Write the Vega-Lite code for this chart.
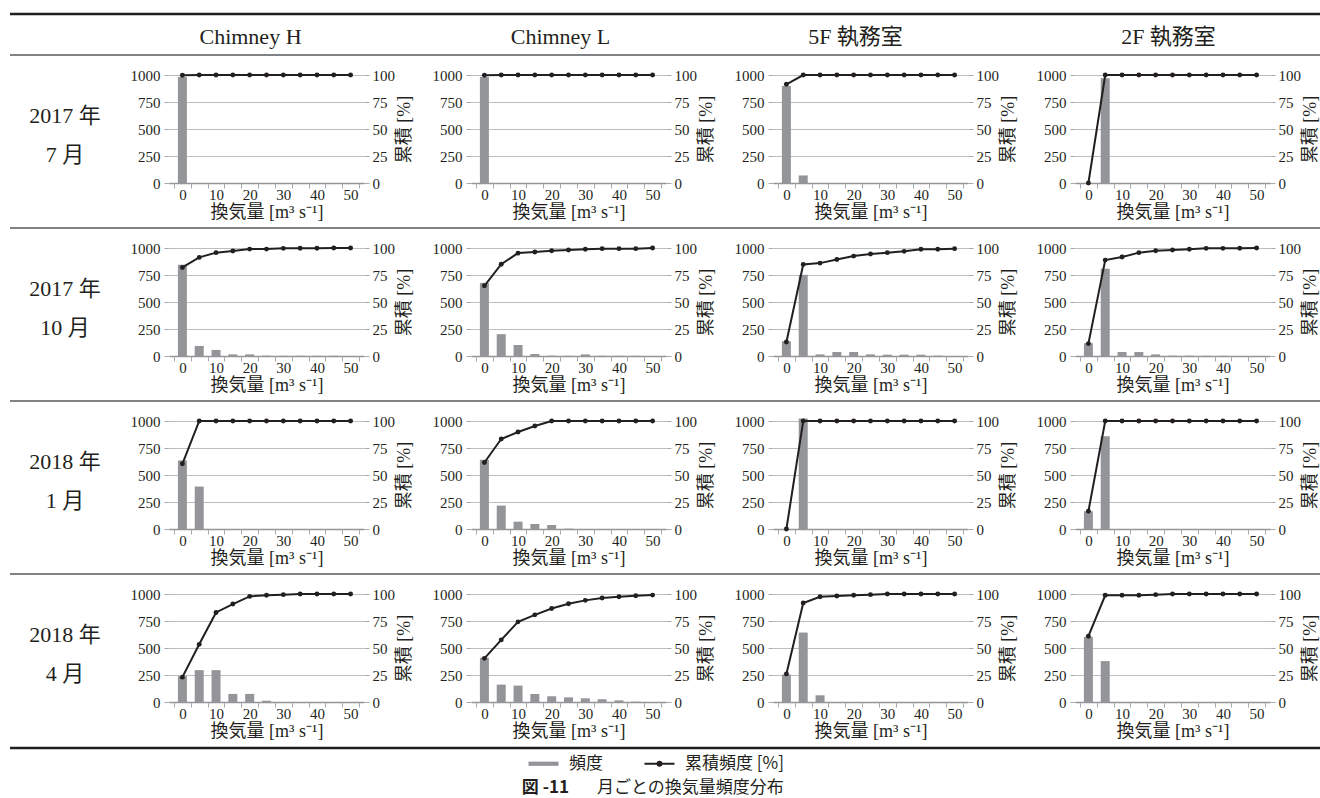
{
"$schema":"https://vega.github.io/schema/vega-lite/v6.json",
"background":"white",
"padding":{"left":8,"top":12,"right":0,"bottom":0},
"data":{"values":[
{"m":"1707","l":"CH","x":0,"f":982,"c":99.8},{"m":"1707","l":"CH","x":5,"f":0,"c":100},{"m":"1707","l":"CH","x":10,"f":0,"c":100},{"m":"1707","l":"CH","x":15,"f":0,"c":100},{"m":"1707","l":"CH","x":20,"f":0,"c":100},{"m":"1707","l":"CH","x":25,"f":0,"c":100},{"m":"1707","l":"CH","x":30,"f":0,"c":100},{"m":"1707","l":"CH","x":35,"f":0,"c":100},{"m":"1707","l":"CH","x":40,"f":0,"c":100},{"m":"1707","l":"CH","x":45,"f":0,"c":100},{"m":"1707","l":"CH","x":50,"f":0,"c":100},
{"m":"1707","l":"CL","x":0,"f":982,"c":99.8},{"m":"1707","l":"CL","x":5,"f":0,"c":100},{"m":"1707","l":"CL","x":10,"f":0,"c":100},{"m":"1707","l":"CL","x":15,"f":0,"c":100},{"m":"1707","l":"CL","x":20,"f":0,"c":100},{"m":"1707","l":"CL","x":25,"f":0,"c":100},{"m":"1707","l":"CL","x":30,"f":0,"c":100},{"m":"1707","l":"CL","x":35,"f":0,"c":100},{"m":"1707","l":"CL","x":40,"f":0,"c":100},{"m":"1707","l":"CL","x":45,"f":0,"c":100},{"m":"1707","l":"CL","x":50,"f":0,"c":100},
{"m":"1707","l":"5F","x":0,"f":899,"c":91.4},{"m":"1707","l":"5F","x":5,"f":70,"c":100},{"m":"1707","l":"5F","x":10,"f":0,"c":100},{"m":"1707","l":"5F","x":15,"f":0,"c":100},{"m":"1707","l":"5F","x":20,"f":0,"c":100},{"m":"1707","l":"5F","x":25,"f":0,"c":100},{"m":"1707","l":"5F","x":30,"f":0,"c":100},{"m":"1707","l":"5F","x":35,"f":0,"c":100},{"m":"1707","l":"5F","x":40,"f":0,"c":100},{"m":"1707","l":"5F","x":45,"f":0,"c":100},{"m":"1707","l":"5F","x":50,"f":0,"c":100},
{"m":"1707","l":"2F","x":0,"f":0,"c":0},{"m":"1707","l":"2F","x":5,"f":969,"c":100},{"m":"1707","l":"2F","x":10,"f":0,"c":100},{"m":"1707","l":"2F","x":15,"f":0,"c":100},{"m":"1707","l":"2F","x":20,"f":0,"c":100},{"m":"1707","l":"2F","x":25,"f":0,"c":100},{"m":"1707","l":"2F","x":30,"f":0,"c":100},{"m":"1707","l":"2F","x":35,"f":0,"c":100},{"m":"1707","l":"2F","x":40,"f":0,"c":100},{"m":"1707","l":"2F","x":45,"f":0,"c":100},{"m":"1707","l":"2F","x":50,"f":0,"c":100},
{"m":"1710","l":"CH","x":0,"f":845,"c":82},{"m":"1710","l":"CH","x":5,"f":93,"c":91.3},{"m":"1710","l":"CH","x":10,"f":56,"c":95.7},{"m":"1710","l":"CH","x":15,"f":15,"c":97.2},{"m":"1710","l":"CH","x":20,"f":15,"c":99},{"m":"1710","l":"CH","x":25,"f":3,"c":99},{"m":"1710","l":"CH","x":30,"f":2,"c":99.7},{"m":"1710","l":"CH","x":35,"f":2,"c":99.8},{"m":"1710","l":"CH","x":40,"f":2,"c":99.8},{"m":"1710","l":"CH","x":45,"f":2,"c":100},{"m":"1710","l":"CH","x":50,"f":0,"c":100},
{"m":"1710","l":"CL","x":0,"f":677,"c":65},{"m":"1710","l":"CL","x":5,"f":202,"c":85},{"m":"1710","l":"CL","x":10,"f":102,"c":95.3},{"m":"1710","l":"CL","x":15,"f":18,"c":96.3},{"m":"1710","l":"CL","x":20,"f":3,"c":97.5},{"m":"1710","l":"CL","x":25,"f":2,"c":98.1},{"m":"1710","l":"CL","x":30,"f":15,"c":98.8},{"m":"1710","l":"CL","x":35,"f":3,"c":99.4},{"m":"1710","l":"CL","x":40,"f":2,"c":99.4},{"m":"1710","l":"CL","x":45,"f":2,"c":99.4},{"m":"1710","l":"CL","x":50,"f":0,"c":100},
{"m":"1710","l":"5F","x":0,"f":137,"c":13},{"m":"1710","l":"5F","x":5,"f":752,"c":84.8},{"m":"1710","l":"5F","x":10,"f":15,"c":86},{"m":"1710","l":"5F","x":15,"f":37,"c":89.4},{"m":"1710","l":"5F","x":20,"f":37,"c":92.5},{"m":"1710","l":"5F","x":25,"f":15,"c":94.4},{"m":"1710","l":"5F","x":30,"f":12,"c":95.7},{"m":"1710","l":"5F","x":35,"f":12,"c":96.9},{"m":"1710","l":"5F","x":40,"f":12,"c":98.8},{"m":"1710","l":"5F","x":45,"f":3,"c":98.8},{"m":"1710","l":"5F","x":50,"f":0,"c":99.4},
{"m":"1710","l":"2F","x":0,"f":118,"c":11.5},{"m":"1710","l":"2F","x":5,"f":807,"c":88.8},{"m":"1710","l":"2F","x":10,"f":37,"c":91.6},{"m":"1710","l":"2F","x":15,"f":37,"c":95.7},{"m":"1710","l":"2F","x":20,"f":15,"c":97.5},{"m":"1710","l":"2F","x":25,"f":3,"c":98.1},{"m":"1710","l":"2F","x":30,"f":3,"c":98.8},{"m":"1710","l":"2F","x":35,"f":2,"c":99.7},{"m":"1710","l":"2F","x":40,"f":2,"c":99.7},{"m":"1710","l":"2F","x":45,"f":0,"c":99.8},{"m":"1710","l":"2F","x":50,"f":0,"c":100},
{"m":"1801","l":"CH","x":0,"f":635,"c":60.4},{"m":"1801","l":"CH","x":5,"f":393,"c":100},{"m":"1801","l":"CH","x":10,"f":0,"c":100},{"m":"1801","l":"CH","x":15,"f":0,"c":100},{"m":"1801","l":"CH","x":20,"f":0,"c":100},{"m":"1801","l":"CH","x":25,"f":0,"c":100},{"m":"1801","l":"CH","x":30,"f":0,"c":100},{"m":"1801","l":"CH","x":35,"f":0,"c":100},{"m":"1801","l":"CH","x":40,"f":0,"c":100},{"m":"1801","l":"CH","x":45,"f":0,"c":100},{"m":"1801","l":"CH","x":50,"f":0,"c":100},
{"m":"1801","l":"CL","x":0,"f":641,"c":61.6},{"m":"1801","l":"CL","x":5,"f":217,"c":83.3},{"m":"1801","l":"CL","x":10,"f":68,"c":89.8},{"m":"1801","l":"CL","x":15,"f":46,"c":95.4},{"m":"1801","l":"CL","x":20,"f":37,"c":100},{"m":"1801","l":"CL","x":25,"f":3,"c":100},{"m":"1801","l":"CL","x":30,"f":0,"c":100},{"m":"1801","l":"CL","x":35,"f":0,"c":100},{"m":"1801","l":"CL","x":40,"f":0,"c":100},{"m":"1801","l":"CL","x":45,"f":0,"c":100},{"m":"1801","l":"CL","x":50,"f":0,"c":100},
{"m":"1801","l":"5F","x":0,"f":0,"c":0},{"m":"1801","l":"5F","x":5,"f":1022,"c":100},{"m":"1801","l":"5F","x":10,"f":0,"c":100},{"m":"1801","l":"5F","x":15,"f":0,"c":100},{"m":"1801","l":"5F","x":20,"f":0,"c":100},{"m":"1801","l":"5F","x":25,"f":0,"c":100},{"m":"1801","l":"5F","x":30,"f":0,"c":100},{"m":"1801","l":"5F","x":35,"f":0,"c":100},{"m":"1801","l":"5F","x":40,"f":0,"c":100},{"m":"1801","l":"5F","x":45,"f":0,"c":100},{"m":"1801","l":"5F","x":50,"f":0,"c":100},
{"m":"1801","l":"2F","x":0,"f":164,"c":16.4},{"m":"1801","l":"2F","x":5,"f":858,"c":100},{"m":"1801","l":"2F","x":10,"f":0,"c":100},{"m":"1801","l":"2F","x":15,"f":0,"c":100},{"m":"1801","l":"2F","x":20,"f":0,"c":100},{"m":"1801","l":"2F","x":25,"f":0,"c":100},{"m":"1801","l":"2F","x":30,"f":0,"c":100},{"m":"1801","l":"2F","x":35,"f":0,"c":100},{"m":"1801","l":"2F","x":40,"f":0,"c":100},{"m":"1801","l":"2F","x":45,"f":0,"c":100},{"m":"1801","l":"2F","x":50,"f":0,"c":100},
{"m":"1804","l":"CH","x":0,"f":239,"c":23},{"m":"1804","l":"CH","x":5,"f":295,"c":53.4},{"m":"1804","l":"CH","x":10,"f":295,"c":82.9},{"m":"1804","l":"CH","x":15,"f":75,"c":90.7},{"m":"1804","l":"CH","x":20,"f":75,"c":97.8},{"m":"1804","l":"CH","x":25,"f":12,"c":98.8},{"m":"1804","l":"CH","x":30,"f":0,"c":99.4},{"m":"1804","l":"CH","x":35,"f":0,"c":100},{"m":"1804","l":"CH","x":40,"f":0,"c":100},{"m":"1804","l":"CH","x":45,"f":0,"c":100},{"m":"1804","l":"CH","x":50,"f":0,"c":100},
{"m":"1804","l":"CL","x":0,"f":410,"c":40.4},{"m":"1804","l":"CL","x":5,"f":161,"c":57.5},{"m":"1804","l":"CL","x":10,"f":152,"c":74.2},{"m":"1804","l":"CL","x":15,"f":75,"c":80.7},{"m":"1804","l":"CL","x":20,"f":53,"c":86.6},{"m":"1804","l":"CL","x":25,"f":43,"c":91},{"m":"1804","l":"CL","x":30,"f":34,"c":94.1},{"m":"1804","l":"CL","x":35,"f":25,"c":96.3},{"m":"1804","l":"CL","x":40,"f":15,"c":97.5},{"m":"1804","l":"CL","x":45,"f":3,"c":98.4},{"m":"1804","l":"CL","x":50,"f":0,"c":99},
{"m":"1804","l":"5F","x":0,"f":255,"c":26},{"m":"1804","l":"5F","x":5,"f":643,"c":91.6},{"m":"1804","l":"5F","x":10,"f":62,"c":97.5},{"m":"1804","l":"5F","x":15,"f":0,"c":98.1},{"m":"1804","l":"5F","x":20,"f":0,"c":98.8},{"m":"1804","l":"5F","x":25,"f":0,"c":99.4},{"m":"1804","l":"5F","x":30,"f":0,"c":100},{"m":"1804","l":"5F","x":35,"f":0,"c":100},{"m":"1804","l":"5F","x":40,"f":0,"c":100},{"m":"1804","l":"5F","x":45,"f":0,"c":100},{"m":"1804","l":"5F","x":50,"f":0,"c":100},
{"m":"1804","l":"2F","x":0,"f":602,"c":60.9},{"m":"1804","l":"2F","x":5,"f":379,"c":98.8},{"m":"1804","l":"2F","x":10,"f":0,"c":98.8},{"m":"1804","l":"2F","x":15,"f":0,"c":98.8},{"m":"1804","l":"2F","x":20,"f":0,"c":99.4},{"m":"1804","l":"2F","x":25,"f":0,"c":100},{"m":"1804","l":"2F","x":30,"f":0,"c":100},{"m":"1804","l":"2F","x":35,"f":0,"c":100},{"m":"1804","l":"2F","x":40,"f":0,"c":100},{"m":"1804","l":"2F","x":45,"f":0,"c":100},{"m":"1804","l":"2F","x":50,"f":0,"c":100}
]},
"spacing":6,
"vconcat":[
{"width":1310,"height":6,"data":{"values":[{"r":1}]},"mark":{"type":"rule","color":"#231f20","strokeWidth":2.5},"encoding":{"y":{"field":"r","type":"quantitative","scale":{"domain":[0,1]},"axis":null}}},
{"hconcat":[
 {"width":52,"height":0,"data":{"values":[{"t":""}]},"mark":"text","encoding":{"text":{"field":"t"}}},
 {"width":195,"height":0,"data":{"values":[{"t":"Chimney H"}]},"mark":{"type":"text","font":"Liberation Serif, Noto Sans CJK JP","fontSize":22,"color":"#231f20","dx":-16},"encoding":{"text":{"field":"t"}}},
 {"width":195,"height":0,"data":{"values":[{"t":"Chimney L"}]},"mark":{"type":"text","font":"Liberation Serif, Noto Sans CJK JP","fontSize":22,"color":"#231f20","dx":-8},"encoding":{"text":{"field":"t"}}},
 {"width":195,"height":0,"data":{"values":[{"t":"5F 執務室"}]},"mark":{"type":"text","font":"Liberation Serif, Noto Sans CJK JP","fontSize":22,"color":"#231f20","dx":-15},"encoding":{"text":{"field":"t"}}},
 {"width":195,"height":0,"data":{"values":[{"t":"2F 執務室"}]},"mark":{"type":"text","font":"Liberation Serif, Noto Sans CJK JP","fontSize":22,"color":"#231f20","dx":-4},"encoding":{"text":{"field":"t"}}}
],"spacing":107,"bounds":"flush"},
{"width":1310,"height":7,"data":{"values":[{"r":1}]},"mark":{"type":"rule","color":"#808285","strokeWidth":2},"encoding":{"y":{"field":"r","type":"quantitative","scale":{"domain":[0,1]},"axis":null}}},
{"hconcat":[
 {"width":52,"height":108,"data":{"values":[{"t":["2017 年","7 月"]}]},"mark":{"type":"text","font":"Liberation Serif, Noto Sans CJK JP","fontSize":22,"lineHeight":39,"color":"#231f20","dx":29,"dy":-13},"encoding":{"text":{"field":"t"}}},
 {"width":195,"height":108,"transform":[{"filter":"datum.m=='1707'&&datum.l=='CH'"}],"layer":[{"mark":{"type":"bar","width":9},"encoding":{"x":{"field":"x","type":"quantitative","scale":{"domain":[-2.5,52.5],"nice":false,"zero":false},"axis":{"orient":"bottom","values":[0,10,20,30,40,50],"ticks":false,"grid":false,"labelPadding":4,"titlePadding":1,"title":"換気量 [m³ s⁻¹]"}},"y":{"field":"f","type":"quantitative","scale":{"domain":[0,1000],"nice":false},"axis":{"orient":"left","values":[0,250,500,750,1000],"format":"d","grid":true,"domain":false,"labelPadding":4,"title":null}},"color":{"datum":"頻度","scale":{"domain":["頻度","累積頻度 [%]"],"range":["#939598","#231f20"]},"legend":{"title":null,"orient":"none","legendX":525,"legendY":741,"direction":"horizontal","symbolSize":900,"labelFont":"Noto Sans CJK JP","labelFontSize":17,"labelColor":"#231f20","labelOffset":17,"columnPadding":37,"padding":0,"labelLimit":300,"encode":{"symbols":{"update":{"shape":{"signal":"datum.value==='頻度'?'M-1,-0.14H1V0.14H-1Z':'M-1,0H1M0.13,0A0.13,0.13,0,1,1,-0.13,0A0.13,0.13,0,1,1,0.13,0Z'"},"fill":{"signal":"datum.value==='頻度'?'#939598':'#231f20'"},"stroke":{"signal":"datum.value==='頻度'?'#939598':'#231f20'"},"strokeWidth":{"signal":"datum.value==='頻度'?0:2"},"opacity":{"value":1}}}}}}}},{"mark":{"type":"line","strokeWidth":2,"point":{"filled":true,"size":24}},"encoding":{"x":{"field":"x","type":"quantitative","scale":{"domain":[-2.5,52.5],"nice":false,"zero":false},"axis":{"orient":"bottom","values":[-2.5,2.5,7.5,12.5,17.5,22.5,27.5,32.5,37.5,42.5,47.5,52.5],"labels":false,"domain":false,"grid":false,"title":null}},"y":{"field":"c","type":"quantitative","scale":{"domain":[0,100],"nice":false},"axis":{"orient":"right","values":[0,25,50,75,100],"grid":false,"domain":false,"labelPadding":3,"title":"累積 [%]","titleAngle":270,"titleBaseline":"top","titlePadding":1}},"color":{"datum":"累積頻度 [%]","scale":{"domain":["頻度","累積頻度 [%]"],"range":["#939598","#231f20"]}}}}],"resolve":{"scale":{"y":"independent"},"axis":{"x":"independent"}}},
 {"width":195,"height":108,"transform":[{"filter":"datum.m=='1707'&&datum.l=='CL'"}],"layer":[{"mark":{"type":"bar","width":9},"encoding":{"x":{"field":"x","type":"quantitative","scale":{"domain":[-2.5,52.5],"nice":false,"zero":false},"axis":{"orient":"bottom","values":[0,10,20,30,40,50],"ticks":false,"grid":false,"labelPadding":4,"titlePadding":1,"title":"換気量 [m³ s⁻¹]"}},"y":{"field":"f","type":"quantitative","scale":{"domain":[0,1000],"nice":false},"axis":{"orient":"left","values":[0,250,500,750,1000],"format":"d","grid":true,"domain":false,"labelPadding":4,"title":null}},"color":{"datum":"頻度","scale":{"domain":["頻度","累積頻度 [%]"],"range":["#939598","#231f20"]}}}},{"mark":{"type":"line","strokeWidth":2,"point":{"filled":true,"size":24}},"encoding":{"x":{"field":"x","type":"quantitative","scale":{"domain":[-2.5,52.5],"nice":false,"zero":false},"axis":{"orient":"bottom","values":[-2.5,2.5,7.5,12.5,17.5,22.5,27.5,32.5,37.5,42.5,47.5,52.5],"labels":false,"domain":false,"grid":false,"title":null}},"y":{"field":"c","type":"quantitative","scale":{"domain":[0,100],"nice":false},"axis":{"orient":"right","values":[0,25,50,75,100],"grid":false,"domain":false,"labelPadding":3,"title":"累積 [%]","titleAngle":270,"titleBaseline":"top","titlePadding":1}},"color":{"datum":"累積頻度 [%]","scale":{"domain":["頻度","累積頻度 [%]"],"range":["#939598","#231f20"]}}}}],"resolve":{"scale":{"y":"independent"},"axis":{"x":"independent"}}},
 {"width":195,"height":108,"transform":[{"filter":"datum.m=='1707'&&datum.l=='5F'"}],"layer":[{"mark":{"type":"bar","width":9},"encoding":{"x":{"field":"x","type":"quantitative","scale":{"domain":[-2.5,52.5],"nice":false,"zero":false},"axis":{"orient":"bottom","values":[0,10,20,30,40,50],"ticks":false,"grid":false,"labelPadding":4,"titlePadding":1,"title":"換気量 [m³ s⁻¹]"}},"y":{"field":"f","type":"quantitative","scale":{"domain":[0,1000],"nice":false},"axis":{"orient":"left","values":[0,250,500,750,1000],"format":"d","grid":true,"domain":false,"labelPadding":4,"title":null}},"color":{"datum":"頻度","scale":{"domain":["頻度","累積頻度 [%]"],"range":["#939598","#231f20"]}}}},{"mark":{"type":"line","strokeWidth":2,"point":{"filled":true,"size":24}},"encoding":{"x":{"field":"x","type":"quantitative","scale":{"domain":[-2.5,52.5],"nice":false,"zero":false},"axis":{"orient":"bottom","values":[-2.5,2.5,7.5,12.5,17.5,22.5,27.5,32.5,37.5,42.5,47.5,52.5],"labels":false,"domain":false,"grid":false,"title":null}},"y":{"field":"c","type":"quantitative","scale":{"domain":[0,100],"nice":false},"axis":{"orient":"right","values":[0,25,50,75,100],"grid":false,"domain":false,"labelPadding":3,"title":"累積 [%]","titleAngle":270,"titleBaseline":"top","titlePadding":1}},"color":{"datum":"累積頻度 [%]","scale":{"domain":["頻度","累積頻度 [%]"],"range":["#939598","#231f20"]}}}}],"resolve":{"scale":{"y":"independent"},"axis":{"x":"independent"}}},
 {"width":195,"height":108,"transform":[{"filter":"datum.m=='1707'&&datum.l=='2F'"}],"layer":[{"mark":{"type":"bar","width":9},"encoding":{"x":{"field":"x","type":"quantitative","scale":{"domain":[-2.5,52.5],"nice":false,"zero":false},"axis":{"orient":"bottom","values":[0,10,20,30,40,50],"ticks":false,"grid":false,"labelPadding":4,"titlePadding":1,"title":"換気量 [m³ s⁻¹]"}},"y":{"field":"f","type":"quantitative","scale":{"domain":[0,1000],"nice":false},"axis":{"orient":"left","values":[0,250,500,750,1000],"format":"d","grid":true,"domain":false,"labelPadding":4,"title":null}},"color":{"datum":"頻度","scale":{"domain":["頻度","累積頻度 [%]"],"range":["#939598","#231f20"]}}}},{"mark":{"type":"line","strokeWidth":2,"point":{"filled":true,"size":24}},"encoding":{"x":{"field":"x","type":"quantitative","scale":{"domain":[-2.5,52.5],"nice":false,"zero":false},"axis":{"orient":"bottom","values":[-2.5,2.5,7.5,12.5,17.5,22.5,27.5,32.5,37.5,42.5,47.5,52.5],"labels":false,"domain":false,"grid":false,"title":null}},"y":{"field":"c","type":"quantitative","scale":{"domain":[0,100],"nice":false},"axis":{"orient":"right","values":[0,25,50,75,100],"grid":false,"domain":false,"labelPadding":3,"title":"累積 [%]","titleAngle":270,"titleBaseline":"top","titlePadding":1}},"color":{"datum":"累積頻度 [%]","scale":{"domain":["頻度","累積頻度 [%]"],"range":["#939598","#231f20"]}}}}],"resolve":{"scale":{"y":"independent"},"axis":{"x":"independent"}}}
],"spacing":107,"bounds":"flush"},
{"width":1310,"height":7,"data":{"values":[{"r":1}]},"mark":{"type":"rule","color":"#58595b","strokeWidth":1.5},"encoding":{"y":{"field":"r","type":"quantitative","scale":{"domain":[0,1]},"axis":null}}},
{"hconcat":[
 {"width":52,"height":108,"data":{"values":[{"t":["2017 年","10 月"]}]},"mark":{"type":"text","font":"Liberation Serif, Noto Sans CJK JP","fontSize":22,"lineHeight":39,"color":"#231f20","dx":29,"dy":-13},"encoding":{"text":{"field":"t"}}},
 {"width":195,"height":108,"transform":[{"filter":"datum.m=='1710'&&datum.l=='CH'"}],"layer":[{"mark":{"type":"bar","width":9},"encoding":{"x":{"field":"x","type":"quantitative","scale":{"domain":[-2.5,52.5],"nice":false,"zero":false},"axis":{"orient":"bottom","values":[0,10,20,30,40,50],"ticks":false,"grid":false,"labelPadding":4,"titlePadding":1,"title":"換気量 [m³ s⁻¹]"}},"y":{"field":"f","type":"quantitative","scale":{"domain":[0,1000],"nice":false},"axis":{"orient":"left","values":[0,250,500,750,1000],"format":"d","grid":true,"domain":false,"labelPadding":4,"title":null}},"color":{"datum":"頻度","scale":{"domain":["頻度","累積頻度 [%]"],"range":["#939598","#231f20"]}}}},{"mark":{"type":"line","strokeWidth":2,"point":{"filled":true,"size":24}},"encoding":{"x":{"field":"x","type":"quantitative","scale":{"domain":[-2.5,52.5],"nice":false,"zero":false},"axis":{"orient":"bottom","values":[-2.5,2.5,7.5,12.5,17.5,22.5,27.5,32.5,37.5,42.5,47.5,52.5],"labels":false,"domain":false,"grid":false,"title":null}},"y":{"field":"c","type":"quantitative","scale":{"domain":[0,100],"nice":false},"axis":{"orient":"right","values":[0,25,50,75,100],"grid":false,"domain":false,"labelPadding":3,"title":"累積 [%]","titleAngle":270,"titleBaseline":"top","titlePadding":1}},"color":{"datum":"累積頻度 [%]","scale":{"domain":["頻度","累積頻度 [%]"],"range":["#939598","#231f20"]}}}}],"resolve":{"scale":{"y":"independent"},"axis":{"x":"independent"}}},
 {"width":195,"height":108,"transform":[{"filter":"datum.m=='1710'&&datum.l=='CL'"}],"layer":[{"mark":{"type":"bar","width":9},"encoding":{"x":{"field":"x","type":"quantitative","scale":{"domain":[-2.5,52.5],"nice":false,"zero":false},"axis":{"orient":"bottom","values":[0,10,20,30,40,50],"ticks":false,"grid":false,"labelPadding":4,"titlePadding":1,"title":"換気量 [m³ s⁻¹]"}},"y":{"field":"f","type":"quantitative","scale":{"domain":[0,1000],"nice":false},"axis":{"orient":"left","values":[0,250,500,750,1000],"format":"d","grid":true,"domain":false,"labelPadding":4,"title":null}},"color":{"datum":"頻度","scale":{"domain":["頻度","累積頻度 [%]"],"range":["#939598","#231f20"]}}}},{"mark":{"type":"line","strokeWidth":2,"point":{"filled":true,"size":24}},"encoding":{"x":{"field":"x","type":"quantitative","scale":{"domain":[-2.5,52.5],"nice":false,"zero":false},"axis":{"orient":"bottom","values":[-2.5,2.5,7.5,12.5,17.5,22.5,27.5,32.5,37.5,42.5,47.5,52.5],"labels":false,"domain":false,"grid":false,"title":null}},"y":{"field":"c","type":"quantitative","scale":{"domain":[0,100],"nice":false},"axis":{"orient":"right","values":[0,25,50,75,100],"grid":false,"domain":false,"labelPadding":3,"title":"累積 [%]","titleAngle":270,"titleBaseline":"top","titlePadding":1}},"color":{"datum":"累積頻度 [%]","scale":{"domain":["頻度","累積頻度 [%]"],"range":["#939598","#231f20"]}}}}],"resolve":{"scale":{"y":"independent"},"axis":{"x":"independent"}}},
 {"width":195,"height":108,"transform":[{"filter":"datum.m=='1710'&&datum.l=='5F'"}],"layer":[{"mark":{"type":"bar","width":9},"encoding":{"x":{"field":"x","type":"quantitative","scale":{"domain":[-2.5,52.5],"nice":false,"zero":false},"axis":{"orient":"bottom","values":[0,10,20,30,40,50],"ticks":false,"grid":false,"labelPadding":4,"titlePadding":1,"title":"換気量 [m³ s⁻¹]"}},"y":{"field":"f","type":"quantitative","scale":{"domain":[0,1000],"nice":false},"axis":{"orient":"left","values":[0,250,500,750,1000],"format":"d","grid":true,"domain":false,"labelPadding":4,"title":null}},"color":{"datum":"頻度","scale":{"domain":["頻度","累積頻度 [%]"],"range":["#939598","#231f20"]}}}},{"mark":{"type":"line","strokeWidth":2,"point":{"filled":true,"size":24}},"encoding":{"x":{"field":"x","type":"quantitative","scale":{"domain":[-2.5,52.5],"nice":false,"zero":false},"axis":{"orient":"bottom","values":[-2.5,2.5,7.5,12.5,17.5,22.5,27.5,32.5,37.5,42.5,47.5,52.5],"labels":false,"domain":false,"grid":false,"title":null}},"y":{"field":"c","type":"quantitative","scale":{"domain":[0,100],"nice":false},"axis":{"orient":"right","values":[0,25,50,75,100],"grid":false,"domain":false,"labelPadding":3,"title":"累積 [%]","titleAngle":270,"titleBaseline":"top","titlePadding":1}},"color":{"datum":"累積頻度 [%]","scale":{"domain":["頻度","累積頻度 [%]"],"range":["#939598","#231f20"]}}}}],"resolve":{"scale":{"y":"independent"},"axis":{"x":"independent"}}},
 {"width":195,"height":108,"transform":[{"filter":"datum.m=='1710'&&datum.l=='2F'"}],"layer":[{"mark":{"type":"bar","width":9},"encoding":{"x":{"field":"x","type":"quantitative","scale":{"domain":[-2.5,52.5],"nice":false,"zero":false},"axis":{"orient":"bottom","values":[0,10,20,30,40,50],"ticks":false,"grid":false,"labelPadding":4,"titlePadding":1,"title":"換気量 [m³ s⁻¹]"}},"y":{"field":"f","type":"quantitative","scale":{"domain":[0,1000],"nice":false},"axis":{"orient":"left","values":[0,250,500,750,1000],"format":"d","grid":true,"domain":false,"labelPadding":4,"title":null}},"color":{"datum":"頻度","scale":{"domain":["頻度","累積頻度 [%]"],"range":["#939598","#231f20"]}}}},{"mark":{"type":"line","strokeWidth":2,"point":{"filled":true,"size":24}},"encoding":{"x":{"field":"x","type":"quantitative","scale":{"domain":[-2.5,52.5],"nice":false,"zero":false},"axis":{"orient":"bottom","values":[-2.5,2.5,7.5,12.5,17.5,22.5,27.5,32.5,37.5,42.5,47.5,52.5],"labels":false,"domain":false,"grid":false,"title":null}},"y":{"field":"c","type":"quantitative","scale":{"domain":[0,100],"nice":false},"axis":{"orient":"right","values":[0,25,50,75,100],"grid":false,"domain":false,"labelPadding":3,"title":"累積 [%]","titleAngle":270,"titleBaseline":"top","titlePadding":1}},"color":{"datum":"累積頻度 [%]","scale":{"domain":["頻度","累積頻度 [%]"],"range":["#939598","#231f20"]}}}}],"resolve":{"scale":{"y":"independent"},"axis":{"x":"independent"}}}
],"spacing":107,"bounds":"flush"},
{"width":1310,"height":7,"data":{"values":[{"r":1}]},"mark":{"type":"rule","color":"#58595b","strokeWidth":1.5},"encoding":{"y":{"field":"r","type":"quantitative","scale":{"domain":[0,1]},"axis":null}}},
{"hconcat":[
 {"width":52,"height":108,"data":{"values":[{"t":["2018 年","1 月"]}]},"mark":{"type":"text","font":"Liberation Serif, Noto Sans CJK JP","fontSize":22,"lineHeight":39,"color":"#231f20","dx":29,"dy":-13},"encoding":{"text":{"field":"t"}}},
 {"width":195,"height":108,"transform":[{"filter":"datum.m=='1801'&&datum.l=='CH'"}],"layer":[{"mark":{"type":"bar","width":9},"encoding":{"x":{"field":"x","type":"quantitative","scale":{"domain":[-2.5,52.5],"nice":false,"zero":false},"axis":{"orient":"bottom","values":[0,10,20,30,40,50],"ticks":false,"grid":false,"labelPadding":4,"titlePadding":1,"title":"換気量 [m³ s⁻¹]"}},"y":{"field":"f","type":"quantitative","scale":{"domain":[0,1000],"nice":false},"axis":{"orient":"left","values":[0,250,500,750,1000],"format":"d","grid":true,"domain":false,"labelPadding":4,"title":null}},"color":{"datum":"頻度","scale":{"domain":["頻度","累積頻度 [%]"],"range":["#939598","#231f20"]}}}},{"mark":{"type":"line","strokeWidth":2,"point":{"filled":true,"size":24}},"encoding":{"x":{"field":"x","type":"quantitative","scale":{"domain":[-2.5,52.5],"nice":false,"zero":false},"axis":{"orient":"bottom","values":[-2.5,2.5,7.5,12.5,17.5,22.5,27.5,32.5,37.5,42.5,47.5,52.5],"labels":false,"domain":false,"grid":false,"title":null}},"y":{"field":"c","type":"quantitative","scale":{"domain":[0,100],"nice":false},"axis":{"orient":"right","values":[0,25,50,75,100],"grid":false,"domain":false,"labelPadding":3,"title":"累積 [%]","titleAngle":270,"titleBaseline":"top","titlePadding":1}},"color":{"datum":"累積頻度 [%]","scale":{"domain":["頻度","累積頻度 [%]"],"range":["#939598","#231f20"]}}}}],"resolve":{"scale":{"y":"independent"},"axis":{"x":"independent"}}},
 {"width":195,"height":108,"transform":[{"filter":"datum.m=='1801'&&datum.l=='CL'"}],"layer":[{"mark":{"type":"bar","width":9},"encoding":{"x":{"field":"x","type":"quantitative","scale":{"domain":[-2.5,52.5],"nice":false,"zero":false},"axis":{"orient":"bottom","values":[0,10,20,30,40,50],"ticks":false,"grid":false,"labelPadding":4,"titlePadding":1,"title":"換気量 [m³ s⁻¹]"}},"y":{"field":"f","type":"quantitative","scale":{"domain":[0,1000],"nice":false},"axis":{"orient":"left","values":[0,250,500,750,1000],"format":"d","grid":true,"domain":false,"labelPadding":4,"title":null}},"color":{"datum":"頻度","scale":{"domain":["頻度","累積頻度 [%]"],"range":["#939598","#231f20"]}}}},{"mark":{"type":"line","strokeWidth":2,"point":{"filled":true,"size":24}},"encoding":{"x":{"field":"x","type":"quantitative","scale":{"domain":[-2.5,52.5],"nice":false,"zero":false},"axis":{"orient":"bottom","values":[-2.5,2.5,7.5,12.5,17.5,22.5,27.5,32.5,37.5,42.5,47.5,52.5],"labels":false,"domain":false,"grid":false,"title":null}},"y":{"field":"c","type":"quantitative","scale":{"domain":[0,100],"nice":false},"axis":{"orient":"right","values":[0,25,50,75,100],"grid":false,"domain":false,"labelPadding":3,"title":"累積 [%]","titleAngle":270,"titleBaseline":"top","titlePadding":1}},"color":{"datum":"累積頻度 [%]","scale":{"domain":["頻度","累積頻度 [%]"],"range":["#939598","#231f20"]}}}}],"resolve":{"scale":{"y":"independent"},"axis":{"x":"independent"}}},
 {"width":195,"height":108,"transform":[{"filter":"datum.m=='1801'&&datum.l=='5F'"}],"layer":[{"mark":{"type":"bar","width":9},"encoding":{"x":{"field":"x","type":"quantitative","scale":{"domain":[-2.5,52.5],"nice":false,"zero":false},"axis":{"orient":"bottom","values":[0,10,20,30,40,50],"ticks":false,"grid":false,"labelPadding":4,"titlePadding":1,"title":"換気量 [m³ s⁻¹]"}},"y":{"field":"f","type":"quantitative","scale":{"domain":[0,1000],"nice":false},"axis":{"orient":"left","values":[0,250,500,750,1000],"format":"d","grid":true,"domain":false,"labelPadding":4,"title":null}},"color":{"datum":"頻度","scale":{"domain":["頻度","累積頻度 [%]"],"range":["#939598","#231f20"]}}}},{"mark":{"type":"line","strokeWidth":2,"point":{"filled":true,"size":24}},"encoding":{"x":{"field":"x","type":"quantitative","scale":{"domain":[-2.5,52.5],"nice":false,"zero":false},"axis":{"orient":"bottom","values":[-2.5,2.5,7.5,12.5,17.5,22.5,27.5,32.5,37.5,42.5,47.5,52.5],"labels":false,"domain":false,"grid":false,"title":null}},"y":{"field":"c","type":"quantitative","scale":{"domain":[0,100],"nice":false},"axis":{"orient":"right","values":[0,25,50,75,100],"grid":false,"domain":false,"labelPadding":3,"title":"累積 [%]","titleAngle":270,"titleBaseline":"top","titlePadding":1}},"color":{"datum":"累積頻度 [%]","scale":{"domain":["頻度","累積頻度 [%]"],"range":["#939598","#231f20"]}}}}],"resolve":{"scale":{"y":"independent"},"axis":{"x":"independent"}}},
 {"width":195,"height":108,"transform":[{"filter":"datum.m=='1801'&&datum.l=='2F'"}],"layer":[{"mark":{"type":"bar","width":9},"encoding":{"x":{"field":"x","type":"quantitative","scale":{"domain":[-2.5,52.5],"nice":false,"zero":false},"axis":{"orient":"bottom","values":[0,10,20,30,40,50],"ticks":false,"grid":false,"labelPadding":4,"titlePadding":1,"title":"換気量 [m³ s⁻¹]"}},"y":{"field":"f","type":"quantitative","scale":{"domain":[0,1000],"nice":false},"axis":{"orient":"left","values":[0,250,500,750,1000],"format":"d","grid":true,"domain":false,"labelPadding":4,"title":null}},"color":{"datum":"頻度","scale":{"domain":["頻度","累積頻度 [%]"],"range":["#939598","#231f20"]}}}},{"mark":{"type":"line","strokeWidth":2,"point":{"filled":true,"size":24}},"encoding":{"x":{"field":"x","type":"quantitative","scale":{"domain":[-2.5,52.5],"nice":false,"zero":false},"axis":{"orient":"bottom","values":[-2.5,2.5,7.5,12.5,17.5,22.5,27.5,32.5,37.5,42.5,47.5,52.5],"labels":false,"domain":false,"grid":false,"title":null}},"y":{"field":"c","type":"quantitative","scale":{"domain":[0,100],"nice":false},"axis":{"orient":"right","values":[0,25,50,75,100],"grid":false,"domain":false,"labelPadding":3,"title":"累積 [%]","titleAngle":270,"titleBaseline":"top","titlePadding":1}},"color":{"datum":"累積頻度 [%]","scale":{"domain":["頻度","累積頻度 [%]"],"range":["#939598","#231f20"]}}}}],"resolve":{"scale":{"y":"independent"},"axis":{"x":"independent"}}}
],"spacing":107,"bounds":"flush"},
{"width":1310,"height":7,"data":{"values":[{"r":1}]},"mark":{"type":"rule","color":"#58595b","strokeWidth":1.5},"encoding":{"y":{"field":"r","type":"quantitative","scale":{"domain":[0,1]},"axis":null}}},
{"hconcat":[
 {"width":52,"height":108,"data":{"values":[{"t":["2018 年","4 月"]}]},"mark":{"type":"text","font":"Liberation Serif, Noto Sans CJK JP","fontSize":22,"lineHeight":39,"color":"#231f20","dx":29,"dy":-13},"encoding":{"text":{"field":"t"}}},
 {"width":195,"height":108,"transform":[{"filter":"datum.m=='1804'&&datum.l=='CH'"}],"layer":[{"mark":{"type":"bar","width":9},"encoding":{"x":{"field":"x","type":"quantitative","scale":{"domain":[-2.5,52.5],"nice":false,"zero":false},"axis":{"orient":"bottom","values":[0,10,20,30,40,50],"ticks":false,"grid":false,"labelPadding":4,"titlePadding":1,"title":"換気量 [m³ s⁻¹]"}},"y":{"field":"f","type":"quantitative","scale":{"domain":[0,1000],"nice":false},"axis":{"orient":"left","values":[0,250,500,750,1000],"format":"d","grid":true,"domain":false,"labelPadding":4,"title":null}},"color":{"datum":"頻度","scale":{"domain":["頻度","累積頻度 [%]"],"range":["#939598","#231f20"]}}}},{"mark":{"type":"line","strokeWidth":2,"point":{"filled":true,"size":24}},"encoding":{"x":{"field":"x","type":"quantitative","scale":{"domain":[-2.5,52.5],"nice":false,"zero":false},"axis":{"orient":"bottom","values":[-2.5,2.5,7.5,12.5,17.5,22.5,27.5,32.5,37.5,42.5,47.5,52.5],"labels":false,"domain":false,"grid":false,"title":null}},"y":{"field":"c","type":"quantitative","scale":{"domain":[0,100],"nice":false},"axis":{"orient":"right","values":[0,25,50,75,100],"grid":false,"domain":false,"labelPadding":3,"title":"累積 [%]","titleAngle":270,"titleBaseline":"top","titlePadding":1}},"color":{"datum":"累積頻度 [%]","scale":{"domain":["頻度","累積頻度 [%]"],"range":["#939598","#231f20"]}}}}],"resolve":{"scale":{"y":"independent"},"axis":{"x":"independent"}}},
 {"width":195,"height":108,"transform":[{"filter":"datum.m=='1804'&&datum.l=='CL'"}],"layer":[{"mark":{"type":"bar","width":9},"encoding":{"x":{"field":"x","type":"quantitative","scale":{"domain":[-2.5,52.5],"nice":false,"zero":false},"axis":{"orient":"bottom","values":[0,10,20,30,40,50],"ticks":false,"grid":false,"labelPadding":4,"titlePadding":1,"title":"換気量 [m³ s⁻¹]"}},"y":{"field":"f","type":"quantitative","scale":{"domain":[0,1000],"nice":false},"axis":{"orient":"left","values":[0,250,500,750,1000],"format":"d","grid":true,"domain":false,"labelPadding":4,"title":null}},"color":{"datum":"頻度","scale":{"domain":["頻度","累積頻度 [%]"],"range":["#939598","#231f20"]}}}},{"mark":{"type":"line","strokeWidth":2,"point":{"filled":true,"size":24}},"encoding":{"x":{"field":"x","type":"quantitative","scale":{"domain":[-2.5,52.5],"nice":false,"zero":false},"axis":{"orient":"bottom","values":[-2.5,2.5,7.5,12.5,17.5,22.5,27.5,32.5,37.5,42.5,47.5,52.5],"labels":false,"domain":false,"grid":false,"title":null}},"y":{"field":"c","type":"quantitative","scale":{"domain":[0,100],"nice":false},"axis":{"orient":"right","values":[0,25,50,75,100],"grid":false,"domain":false,"labelPadding":3,"title":"累積 [%]","titleAngle":270,"titleBaseline":"top","titlePadding":1}},"color":{"datum":"累積頻度 [%]","scale":{"domain":["頻度","累積頻度 [%]"],"range":["#939598","#231f20"]}}}}],"resolve":{"scale":{"y":"independent"},"axis":{"x":"independent"}}},
 {"width":195,"height":108,"transform":[{"filter":"datum.m=='1804'&&datum.l=='5F'"}],"layer":[{"mark":{"type":"bar","width":9},"encoding":{"x":{"field":"x","type":"quantitative","scale":{"domain":[-2.5,52.5],"nice":false,"zero":false},"axis":{"orient":"bottom","values":[0,10,20,30,40,50],"ticks":false,"grid":false,"labelPadding":4,"titlePadding":1,"title":"換気量 [m³ s⁻¹]"}},"y":{"field":"f","type":"quantitative","scale":{"domain":[0,1000],"nice":false},"axis":{"orient":"left","values":[0,250,500,750,1000],"format":"d","grid":true,"domain":false,"labelPadding":4,"title":null}},"color":{"datum":"頻度","scale":{"domain":["頻度","累積頻度 [%]"],"range":["#939598","#231f20"]}}}},{"mark":{"type":"line","strokeWidth":2,"point":{"filled":true,"size":24}},"encoding":{"x":{"field":"x","type":"quantitative","scale":{"domain":[-2.5,52.5],"nice":false,"zero":false},"axis":{"orient":"bottom","values":[-2.5,2.5,7.5,12.5,17.5,22.5,27.5,32.5,37.5,42.5,47.5,52.5],"labels":false,"domain":false,"grid":false,"title":null}},"y":{"field":"c","type":"quantitative","scale":{"domain":[0,100],"nice":false},"axis":{"orient":"right","values":[0,25,50,75,100],"grid":false,"domain":false,"labelPadding":3,"title":"累積 [%]","titleAngle":270,"titleBaseline":"top","titlePadding":1}},"color":{"datum":"累積頻度 [%]","scale":{"domain":["頻度","累積頻度 [%]"],"range":["#939598","#231f20"]}}}}],"resolve":{"scale":{"y":"independent"},"axis":{"x":"independent"}}},
 {"width":195,"height":108,"transform":[{"filter":"datum.m=='1804'&&datum.l=='2F'"}],"layer":[{"mark":{"type":"bar","width":9},"encoding":{"x":{"field":"x","type":"quantitative","scale":{"domain":[-2.5,52.5],"nice":false,"zero":false},"axis":{"orient":"bottom","values":[0,10,20,30,40,50],"ticks":false,"grid":false,"labelPadding":4,"titlePadding":1,"title":"換気量 [m³ s⁻¹]"}},"y":{"field":"f","type":"quantitative","scale":{"domain":[0,1000],"nice":false},"axis":{"orient":"left","values":[0,250,500,750,1000],"format":"d","grid":true,"domain":false,"labelPadding":4,"title":null}},"color":{"datum":"頻度","scale":{"domain":["頻度","累積頻度 [%]"],"range":["#939598","#231f20"]}}}},{"mark":{"type":"line","strokeWidth":2,"point":{"filled":true,"size":24}},"encoding":{"x":{"field":"x","type":"quantitative","scale":{"domain":[-2.5,52.5],"nice":false,"zero":false},"axis":{"orient":"bottom","values":[-2.5,2.5,7.5,12.5,17.5,22.5,27.5,32.5,37.5,42.5,47.5,52.5],"labels":false,"domain":false,"grid":false,"title":null}},"y":{"field":"c","type":"quantitative","scale":{"domain":[0,100],"nice":false},"axis":{"orient":"right","values":[0,25,50,75,100],"grid":false,"domain":false,"labelPadding":3,"title":"累積 [%]","titleAngle":270,"titleBaseline":"top","titlePadding":1}},"color":{"datum":"累積頻度 [%]","scale":{"domain":["頻度","累積頻度 [%]"],"range":["#939598","#231f20"]}}}}],"resolve":{"scale":{"y":"independent"},"axis":{"x":"independent"}}}
],"spacing":107,"bounds":"flush"},
{"width":1310,"height":24,"data":{"values":[{"r":1}]},"mark":{"type":"rule","color":"#231f20","strokeWidth":2.5},"encoding":{"y":{"field":"r","type":"quantitative","scale":{"domain":[0,1]},"axis":null}}},
{"width":1310,"height":0,"data":{"values":[{"a":"図 -11","b":"月ごとの換気量頻度分布"}]},"layer":[
 {"mark":{"type":"text","align":"right","dx":-96,"font":"Noto Sans CJK JP","fontSize":17,"fontWeight":"bold","color":"#231f20"},"encoding":{"text":{"field":"a"}}},
 {"mark":{"type":"text","align":"left","dx":-68,"font":"Noto Sans CJK JP","fontSize":17,"color":"#231f20"},"encoding":{"text":{"field":"b"}}}
]}
],
"config":{
 "view":{"stroke":null},
 "axis":{"labelFont":"Liberation Serif, Noto Sans CJK JP","labelFontSize":15,"labelColor":"#231f20","titleFont":"Liberation Serif, Noto Sans CJK JP","titleFontSize":18,"titleFontWeight":"normal","titleColor":"#231f20","tickColor":"#a7a9ac","tickSize":5,"domainColor":"#939598","domainWidth":1.5,"gridColor":"#bcbec0","gridWidth":1}
}
}
